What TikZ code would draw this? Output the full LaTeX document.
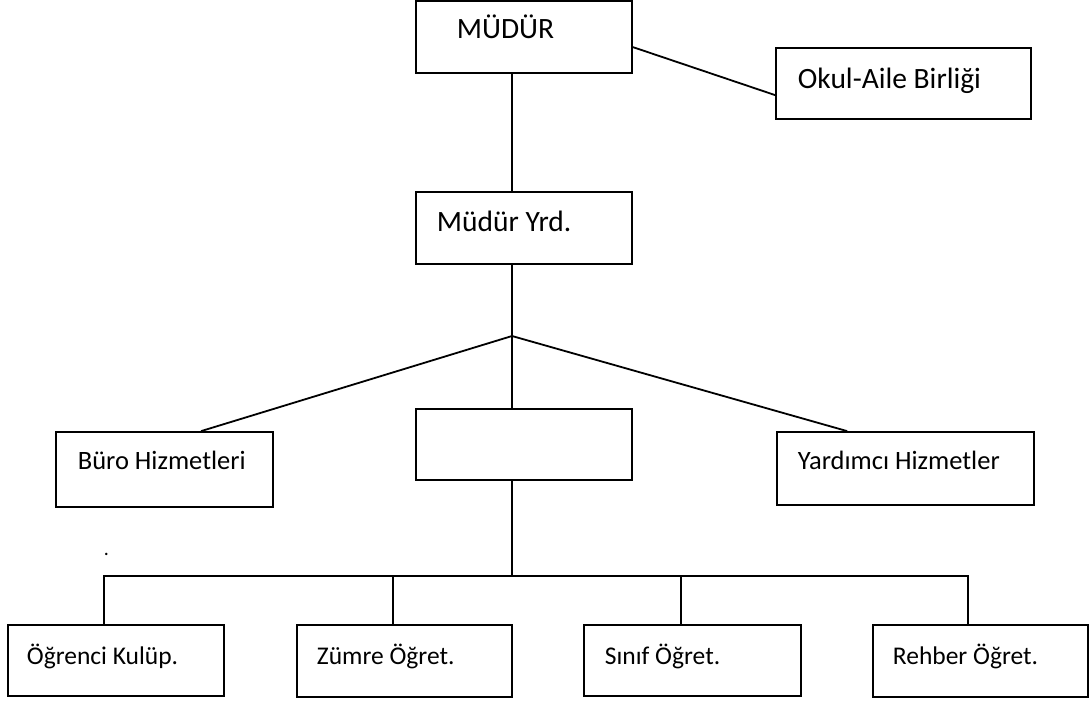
\documentclass[tikz,border=0pt]{standalone}
\usepackage{fontspec}
\setmainfont{Carlito}
\usetikzlibrary{calc}
\begin{document}
\begin{tikzpicture}[x=1pt,y=-1pt,
  every path/.style={line width=1.8pt},
  box/.style={draw, line width=1.8pt, inner sep=0pt, fill=white},
  lbl/.style={anchor=base west, inner sep=0pt},
  big/.style={font=\fontsize{29.5}{33}\selectfont},
  mid/.style={font=\fontsize{26.5}{30}\selectfont},
  sml/.style={font=\fontsize{25.5}{30}\selectfont}]
\useasboundingbox[fill=white] (0,0) rectangle (1089,702);
% boxes
\node[box, minimum width=216pt, minimum height=72pt] (mudur) at (524,37) {};
\node[box, minimum width=255pt, minimum height=71pt] (okul) at (903.5,83.5) {};
\node[box, minimum width=216pt, minimum height=72pt] (yrd) at (524,228) {};
\node[box, minimum width=217pt, minimum height=75pt] (buro) at (164.5,469.5) {};
\node[box, minimum width=257pt, minimum height=73pt] (yard) at (905.5,468.5) {};
\node[box, minimum width=216pt, minimum height=71pt] (midb) at (524,444.5) {};
\node[box, minimum width=216pt, minimum height=71pt] (ogr) at (116,660.5) {};
\node[box, minimum width=215pt, minimum height=72pt] (zum) at (404.5,661) {};
\node[box, minimum width=217pt, minimum height=71pt] (sin) at (692.5,660.5) {};
\node[box, minimum width=215pt, minimum height=72pt] (reh) at (980.5,661) {};
% labels
\node[lbl, big] (tmudur) at (456,38) {MÜDÜR};
\node[lbl, big] (tokul) at (797,88) {Okul-Aile Birliği};
\node[lbl, big] (tyrd) at (436,231) {Müdür Yrd.};
\node[lbl, mid] (tburo) at (77,469) {Büro Hizmetleri};
\node[lbl, mid] (tyard) at (797,469) {Yardımcı Hizmetler};
\node[lbl, sml] (togr) at (26,664) {Öğrenci Kulüp.};
\node[lbl, sml] (tzum) at (316,664) {Zümre Öğret.};
\node[lbl, sml] (tsin) at (604,664) {Sınıf Öğret.};
\node[lbl, sml] (treh) at (892,664) {Rehber Öğret.};
\node[lbl, font=\fontsize{20}{24}\selectfont] (dot) at (103,555) {.};
% connector points
\coordinate (J) at (512,336);
\coordinate (bar) at (512,576);
\coordinate (barL) at (104,576);
\coordinate (barR) at (968,576);
\coordinate (cZ) at (393,576);
\coordinate (cS) at (681,576);
% connectors
\draw ($(mudur.north east)+(0,47)$) -- ($(okul.north west)+(0,48)$);
\draw (mudur.south -| J) -- (yrd.north -| J);
\draw (yrd.south -| J) -- (J);
\draw (J) -- ($(buro.north west)+(146,0)$);
\draw (J) -- ($(yard.north west)+(71,0)$);
\draw (J) -- (midb.north -| J);
\draw (midb.south -| J) -- (bar);
\draw[line join=miter] (ogr.north -| barL) -- (barL) -- (barR) -- (reh.north -| barR);
\draw (cZ) -- (zum.north -| cZ);
\draw (cS) -- (sin.north -| cS);
\end{tikzpicture}
\end{document}
